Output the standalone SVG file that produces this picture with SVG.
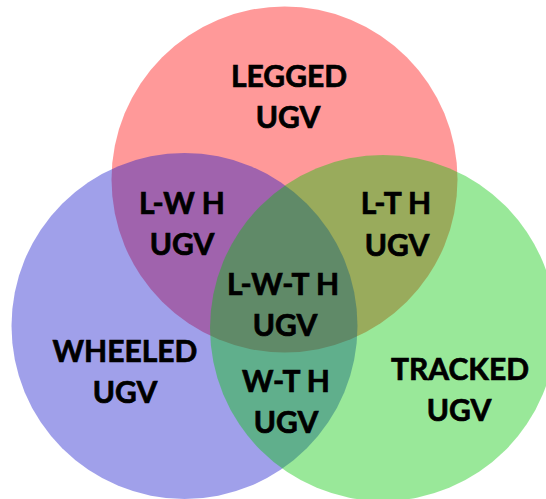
<svg xmlns="http://www.w3.org/2000/svg" width="546" height="499" viewBox="0 0 546 499">
<style>
.c{fill-opacity:0.4;stroke:none}
text{font-family:Lato,"Liberation Sans",sans-serif;font-weight:bold;font-size:30px;fill:#000;stroke:#000;stroke-width:0.7px;text-anchor:middle}
</style>
<rect width="546" height="499" fill="#fff"/>
<g id="legged"><circle class="c" cx="284.5" cy="179.5" r="173" fill="#ff0000"/></g>
<g id="wheeled"><circle class="c" cx="184.5" cy="326" r="173" fill="#1212ca"/></g>
<g id="tracked"><circle class="c" cx="383" cy="328" r="173" fill="#00c500"/></g>
<g id="connectors"/>
<g id="labels">
<g id="legged-label"><text x="289" y="87">LEGGED</text><text x="288" y="128">UGV</text></g>
<g id="lw-label"><text x="182" y="214">L-W H</text><text x="182" y="255">UGV</text></g>
<g id="lt-label"><text x="396" y="214">L-T H</text><text x="397" y="256">UGV</text></g>
<g id="lwt-label"><text x="283" y="295">L-W-T H</text><text x="285" y="336">UGV</text></g>
<g id="wheeled-label"><text x="125" y="362">WHEELED</text><text x="125" y="403">UGV</text></g>
<g id="wt-label"><text x="286" y="392">W-T H</text><text x="286" y="433">UGV</text></g>
<g id="tracked-label"><text x="460" y="380">TRACKED</text><text x="459" y="421">UGV</text></g>
</g>
</svg>
